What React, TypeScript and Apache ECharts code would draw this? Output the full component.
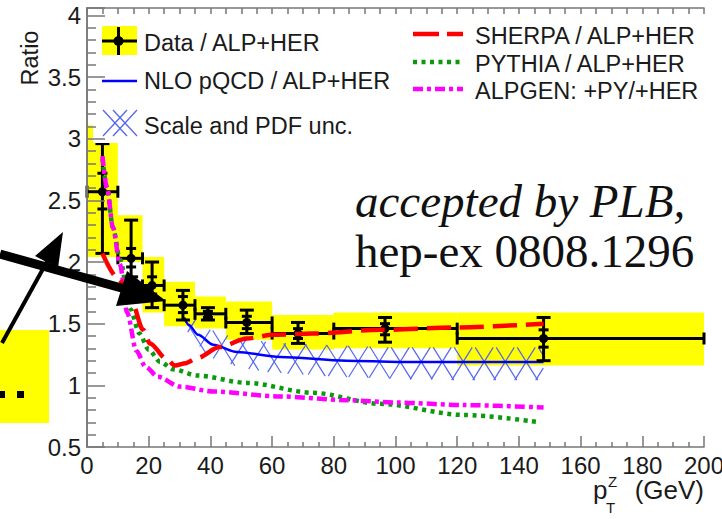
import React, { useEffect, useRef } from "react";
import * as echarts from "echarts";

// ---------------- data ----------------
const binLo = [0, 10, 18, 25, 35, 45, 60, 80, 120];
const binHi = [10, 18, 25, 35, 45, 60, 80, 120, 200];
const dataX = [5, 14.3, 21.1, 31.1, 39.2, 51.8, 68.4, 96.6, 148];
const dataY = [2.57, 2.03, 1.81, 1.65, 1.58, 1.51, 1.42, 1.46, 1.38];
const totUp = [2.96, 2.34, 2.0, 1.77, 1.63, 1.61, 1.51, 1.55, 1.55];
const totDn = [2.07, 1.88, 1.63, 1.53, 1.53, 1.42, 1.34, 1.35, 1.2];
const statUp = [2.72, 2.11, 1.88, 1.72, 1.6, 1.56, 1.46, 1.5, 1.45];
const statDn = [2.43, 1.96, 1.74, 1.59, 1.55, 1.46, 1.38, 1.41, 1.31];
const sysHi = [3.11, 2.38, 2.04, 1.84, 1.72, 1.68, 1.57, 1.59, 1.59];
const sysLo = [2.04, 2.0, 1.59, 1.48, 1.46, 1.37, 1.29, 1.3, 1.16];

const nloX = [31.5, 33, 36, 40.9, 48.6, 62.6, 84, 101, 120, 148];
const nloY = [1.55, 1.49, 1.41, 1.33, 1.27, 1.23, 1.2, 1.19, 1.19, 1.19];

const bandX = [32, 36, 40, 50, 60, 80, 100, 120, 148];
const bandUp = [1.6, 1.52, 1.45, 1.38, 1.35, 1.33, 1.31, 1.31, 1.31];
const bandDn = [1.45, 1.32, 1.22, 1.14, 1.1, 1.07, 1.05, 1.04, 1.04];

const sherpaX = [5, 10, 14.6, 18.2, 20.4, 25.9, 28.5, 32, 35.6, 43, 51.8, 60.3, 73, 95, 120, 148];
const sherpaY = [2.07, 1.87, 1.67, 1.45, 1.34, 1.21, 1.16, 1.18, 1.22, 1.31, 1.38, 1.41, 1.42, 1.45, 1.47, 1.5];

const pythiaX = [5, 6.5, 8.4, 10.7, 14, 17, 20, 23.7, 28, 35.6, 51.8, 73, 95, 122, 147];
const pythiaY = [2.84, 2.6, 2.28, 2.02, 1.62, 1.42, 1.29, 1.19, 1.13, 1.08, 1.02, 0.94, 0.85, 0.76, 0.7];

const alpgenX = [5, 6.5, 8.4, 10.7, 13, 16, 19, 23, 30, 41, 62.6, 84, 101, 122, 148];
const alpgenY = [2.86, 2.6, 2.28, 1.98, 1.59, 1.28, 1.15, 1.07, 0.99, 0.95, 0.91, 0.88, 0.86, 0.84, 0.82];

const xTickMin = 0;
const xTickMax = 200;
const xTickStep = 20;
const yTickMin = 0.5;
const yTickMax = 4.06;
const yTickStep = 0.5;

const legendLeft = ["Data / ALP+HER", "NLO pQCD / ALP+HER", "Scale and PDF unc."];
const legendRight = ["SHERPA / ALP+HER", "PYTHIA / ALP+HER", "ALPGEN: +PY/+HER"];
const noteLines = ["accepted by PLB,", "hep-ex 0808.1296"];

// ---------------- styling ----------------
const SANS = "Liberation Sans";
const SERIF = "Liberation Serif";
const TXT = "#1a1a1a";
const AX = "#777";
const YEL = "#ffff00";
const RED = "#ff0000";
const GREEN = "#0b9a0b";
const PINK = "#ff00ff";
const BLUE = "#0000ff";
const HATCH = "#5566ee";

const zip = (xs: number[], ys: number[]) => xs.map((x, i) => [x, ys[i]]);

function yellowRender(params: any, api: any) {
  const p1 = api.coord([api.value(0), api.value(3)]);
  const p2 = api.coord([api.value(1), api.value(2)]);
  return {
    type: "rect",
    shape: { x: p1[0], y: p1[1], width: p2[0] - p1[0], height: p2[1] - p1[1] },
    style: { fill: YEL },
  };
}

function hatchRender(params: any, api: any) {
  const up = bandX.map((x, i) => api.coord([x, bandUp[i]]));
  const dn = bandX.map((x, i) => api.coord([x, bandDn[i]]));
  const xs = up[0][0];
  const xe = up[up.length - 1][0];
  const interp = (pts: number[][], x: number) => {
    for (let i = 0; i < pts.length - 1; i++) {
      const a = pts[i];
      const b = pts[i + 1];
      if (x >= a[0] && x <= b[0]) {
        const t = (x - a[0]) / (b[0] - a[0]);
        return a[1] + t * (b[1] - a[1]);
      }
    }
    return pts[pts.length - 1][1];
  };
  const period = 21;
  const slope = 1.6;
  const yRef = up[0][1];
  const children: any[] = [];
  const push = (seg: number[][]) => {
    if (seg.length > 1) {
      children.push({
        type: "line",
        shape: { x1: seg[0][0], y1: seg[0][1], x2: seg[seg.length - 1][0], y2: seg[seg.length - 1][1] },
        style: { stroke: HATCH, lineWidth: 1.2 },
      });
    }
  };
  for (const s of [slope, -slope]) {
    for (let c = xs - 300; c <= xe + 300; c += period) {
      let seg: number[][] = [];
      for (let x = xs; x <= xe + 0.01; x += 0.5) {
        const y = yRef + s * (x - c);
        const inside = y >= interp(up, x) - 0.01 && y <= interp(dn, x) + 0.01;
        if (inside) seg.push([x, y]);
        else if (seg.length) {
          push(seg);
          seg = [];
        }
      }
      push(seg);
    }
  }
  return { type: "group", children };
}

function errRender(params: any, api: any) {
  const x = api.value(0);
  const y = api.value(1);
  const c = api.coord([x, y]);
  const pLo = api.coord([api.value(2), y]);
  const pHi = api.coord([api.value(3), y]);
  const tDn = api.coord([x, api.value(4)]);
  const tUp = api.coord([x, api.value(5)]);
  const sDn = api.coord([x, api.value(6)]);
  const sUp = api.coord([x, api.value(7)]);
  const st = { stroke: "#000", lineWidth: 3 };
  const L = (x1: number, y1: number, x2: number, y2: number) => ({
    type: "line",
    shape: { x1, y1, x2, y2 },
    style: st,
  });
  const cw = 7;
  const sw = 5;
  return {
    type: "group",
    children: [
      L(c[0], tUp[1], c[0], tDn[1]),
      L(c[0] - cw, tUp[1], c[0] + cw, tUp[1]),
      L(c[0] - cw, tDn[1], c[0] + cw, tDn[1]),
      L(c[0] - sw, sUp[1], c[0] + sw, sUp[1]),
      L(c[0] - sw, sDn[1], c[0] + sw, sDn[1]),
      L(pLo[0], c[1], pHi[0], c[1]),
      L(pLo[0], c[1] - 6, pLo[0], c[1] + 6),
      L(pHi[0], c[1] - 6, pHi[0], c[1] + 6),
      { type: "circle", shape: { cx: c[0], cy: c[1], r: 4.5 }, style: { fill: "#000" } },
    ],
  };
}

function buildOption() {
  const axLine = { show: true, lineStyle: { color: AX, width: 1.5 } };
  const tick = (len: number) => ({ show: true, inside: true, length: len, lineStyle: { color: AX, width: 1.5 } });
  const LF = 23.5;
  const txt = (text: string, x: number, y: number, extra: any = {}) => ({
    type: "text",
    x,
    y,
    z: 70,
    style: {
      text,
      fontFamily: SANS,
      fontSize: LF,
      fill: TXT,
      align: "left",
      verticalAlign: "middle",
      ...extra,
    },
  });
  const gl = (x1: number, y1: number, x2: number, y2: number, style: any, z = 70) => ({
    type: "line",
    z,
    shape: { x1, y1, x2, y2 },
    style,
  });

  const graphics: any[] = [
    // legend box (white fill) covering part of the plot
    { type: "rect", z: 50, shape: { x: 93, y: 16, width: 268, height: 127 }, style: { fill: "#fff" } },
    // left legend
    { type: "rect", z: 70, shape: { x: 102, y: 26, width: 35, height: 29 }, style: { fill: YEL } },
    gl(102, 41, 137, 41, { stroke: "#000", lineWidth: 3 }),
    gl(118.5, 27, 118.5, 55, { stroke: "#000", lineWidth: 3 }),
    { type: "circle", z: 71, shape: { cx: 118.5, cy: 41, r: 5 }, style: { fill: "#000" } },
    txt(legendLeft[0], 144, 43),
    gl(102, 81, 137, 81, { stroke: BLUE, lineWidth: 2.5 }),
    txt(legendLeft[1], 144, 81),
    gl(103, 110, 127, 136, { stroke: HATCH, lineWidth: 1.3 }),
    gl(103, 136, 127, 110, { stroke: HATCH, lineWidth: 1.3 }),
    gl(113, 110, 137, 136, { stroke: HATCH, lineWidth: 1.3 }),
    gl(113, 136, 137, 110, { stroke: HATCH, lineWidth: 1.3 }),
    txt(legendLeft[2], 144, 126),
    // right legend
    gl(413, 34, 463, 34, { stroke: RED, lineWidth: 4.5, lineDash: [26, 8] }),
    txt(legendRight[0], 475, 36),
    gl(413, 62, 463, 62, { stroke: GREEN, lineWidth: 4.5, lineDash: [4, 4.5] }),
    txt(legendRight[1], 475, 64),
    gl(413, 89, 463, 89, { stroke: PINK, lineWidth: 4.5, lineDash: [10, 4, 4, 4] }),
    txt(legendRight[2], 475, 91),
    // axis titles
    {
      type: "text",
      x: 30,
      y: 58,
      z: 70,
      rotation: Math.PI / 2,
      style: { text: "Ratio", fontFamily: SANS, fontSize: LF, fill: TXT, align: "center", verticalAlign: "middle" },
    },
    txt("p", 593, 490, { fontSize: 26 }),
    txt("Z", 608, 481, { fontSize: 15 }),
    txt("T", 606, 507, { fontSize: 15 }),
    txt("(GeV)", 704, 490, { align: "right", fontSize: 26 }),
    // note
    {
      type: "text",
      x: 355,
      y: 201,
      z: 70,
      style: {
        text: noteLines[0],
        fontFamily: SERIF,
        fontStyle: "italic",
        fontSize: 47,
        fill: "#111",
        align: "left",
        verticalAlign: "middle",
      },
    },
    {
      type: "text",
      x: 355,
      y: 251,
      z: 70,
      style: { text: noteLines[1], fontFamily: SERIF, fontSize: 47, fill: "#111", align: "left", verticalAlign: "middle" },
    },
    // left-side fragments
    { type: "rect", z: 75, shape: { x: 0, y: 330, width: 49, height: 93 }, style: { fill: YEL } },
    { type: "rect", z: 76, shape: { x: 0, y: 391, width: 5, height: 7 }, style: { fill: "#000" } },
    { type: "rect", z: 76, shape: { x: 17, y: 391, width: 7, height: 7 }, style: { fill: "#000" } },
    // arrows
    gl(0, 254, 125, 289, { stroke: "#000", lineWidth: 9 }, 80),
    { type: "polygon", z: 80, shape: { points: [[166, 301], [116, 306], [127, 271]] }, style: { fill: "#000" } },
    gl(2, 343, 49, 258, { stroke: "#000", lineWidth: 4 }, 81),
    { type: "polygon", z: 81, shape: { points: [[63, 232], [35, 256], [58, 268]] }, style: { fill: "#000" } },
  ];

  const yFmt = (v: number) => (Math.abs(v * 2 - Math.round(v * 2)) < 1e-6 ? String(v) : "");

  return {
    animation: false,
    backgroundColor: "#fff",
    grid: { left: 87, right: 18, top: 8, bottom: 72, outerBoundsMode: "none", containLabel: false },
    xAxis: [
      {
        type: "value",
        min: xTickMin,
        max: xTickMax,
        interval: xTickStep,
        position: "bottom",
        z: 60,
        axisLine: axLine,
        axisTick: tick(11),
        minorTick: { show: true, splitNumber: 4, length: 5, lineStyle: { color: AX, width: 1.5 } },
        splitLine: { show: false },
        minorSplitLine: { show: false },
        axisLabel: { fontFamily: SANS, fontSize: 24, color: TXT, margin: 6 },
      },
      {
        type: "value",
        min: xTickMin,
        max: xTickMax,
        interval: xTickStep,
        position: "top",
        z: 60,
        axisLine: axLine,
        axisTick: tick(6),
        minorTick: { show: true, splitNumber: 4, length: 6, lineStyle: { color: AX, width: 1.5 } },
        splitLine: { show: false },
        axisLabel: { show: false },
      },
    ],
    yAxis: [
      {
        type: "value",
        min: yTickMin,
        max: yTickMax,
        interval: yTickStep,
        position: "left",
        z: 60,
        axisLine: axLine,
        axisTick: tick(18),
        minorTick: { show: true, splitNumber: 5, length: 9, lineStyle: { color: AX, width: 1.5 } },
        splitLine: { show: false },
        minorSplitLine: { show: false },
        axisLabel: {
          fontFamily: SANS,
          fontSize: 24,
          color: TXT,
          margin: 6,
          padding: [10, 0, 0, 0],
          formatter: yFmt,
        },
      },
      {
        type: "value",
        min: yTickMin,
        max: yTickMax,
        interval: yTickStep,
        position: "right",
        z: 60,
        axisLine: axLine,
        axisTick: { show: false },
        splitLine: { show: false },
        axisLabel: { show: false },
      },
    ],
    series: [
      {
        name: "Data syst",
        type: "custom",
        z: 2,
        renderItem: yellowRender,
        data: binLo.map((lo, i) => [lo, binHi[i], sysLo[i], sysHi[i]]),
        encode: { x: [0, 1], y: [2, 3] },
      },
      {
        name: "Scale and PDF unc.",
        type: "custom",
        z: 3,
        renderItem: hatchRender,
        data: [[bandX[0], bandUp[0]]],
        encode: { x: 0, y: 1 },
      },
      {
        name: "NLO pQCD / ALP+HER",
        type: "line",
        z: 4,
        data: zip(nloX, nloY),
        showSymbol: false,
        smooth: 0.3,
        smoothMonotone: "x",
        lineStyle: { color: BLUE, width: 2.5 },
      },
      {
        name: "Data / ALP+HER",
        type: "custom",
        z: 5,
        renderItem: errRender,
        data: dataX.map((x, i) => [x, dataY[i], binLo[i], binHi[i], totDn[i], totUp[i], statDn[i], statUp[i]]),
        encode: { x: 0, y: 1 },
      },
      {
        name: "PYTHIA / ALP+HER",
        type: "line",
        z: 6,
        data: zip(pythiaX, pythiaY),
        showSymbol: false,
        smooth: 0.3,
        smoothMonotone: "x",
        lineStyle: { color: GREEN, width: 4.5, type: [4, 4.5], cap: "butt" },
      },
      {
        name: "ALPGEN: +PY/+HER",
        type: "line",
        z: 7,
        data: zip(alpgenX, alpgenY),
        showSymbol: false,
        smooth: 0.3,
        smoothMonotone: "x",
        lineStyle: { color: PINK, width: 4.5, type: [10, 4, 4, 4], cap: "butt" },
      },
      {
        name: "SHERPA / ALP+HER",
        type: "line",
        z: 8,
        data: zip(sherpaX, sherpaY),
        showSymbol: false,
        smooth: 0.3,
        smoothMonotone: "x",
        lineStyle: { color: RED, width: 4.5, type: [24, 9], cap: "butt" },
      },
    ],
    graphic: { elements: graphics },
  };
}

export default function App() {
  const ref = useRef<HTMLDivElement>(null);
  useEffect(() => {
    document.body.style.margin = "0";
    const chart = echarts.init(ref.current!, null, { renderer: "svg" });
    chart.setOption(buildOption() as any);
    return () => chart.dispose();
  }, []);
  return <div ref={ref} style={{ width: 722, height: 519 }} />;
}
